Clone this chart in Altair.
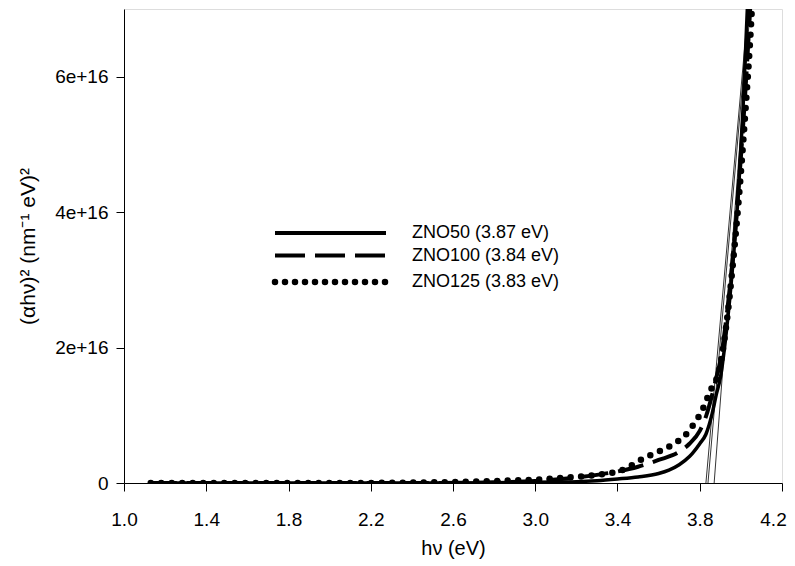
import altair as alt
import pandas as pd

# ---- data (values in units of 1e16) ----
zno50_hv = [1.13, 1.5, 2.0, 2.5, 2.8, 3.0, 3.1, 3.2, 3.3, 3.4, 3.5, 3.6, 3.65, 3.7, 3.75,
            3.8, 3.83, 3.86, 3.88, 3.9, 3.93, 3.96, 3.99, 4.01, 4.03, 4.04]
zno50_val = [0.0, 0.0, 0.0, 0.0, 0.005, 0.01, 0.015, 0.02, 0.035, 0.06, 0.09, 0.14, 0.19, 0.27, 0.39,
             0.58, 0.72, 1.02, 1.30, 1.55, 2.25, 3.2, 4.4, 5.5, 6.9, 7.6]

zno100_hv = [1.13, 1.5, 2.0, 2.5, 2.8, 3.0, 3.1, 3.2, 3.3, 3.4, 3.5, 3.6, 3.7, 3.75,
             3.8, 3.83, 3.86, 3.88, 3.9, 3.93, 3.96, 3.99, 4.02, 4.045, 4.055]
zno100_val = [0.0, 0.0, 0.0, 0.0, 0.01, 0.03, 0.05, 0.08, 0.12, 0.17, 0.24, 0.34, 0.46, 0.58,
              0.77, 0.98, 1.30, 1.55, 1.80, 2.45, 3.3, 4.4, 5.7, 7.0, 7.6]

zno125_hv = [1.13, 1.5, 2.0, 2.5, 2.8, 3.0, 3.1, 3.2, 3.3, 3.37, 3.43, 3.48, 3.53, 3.59, 3.64,
             3.69, 3.74, 3.78, 3.81, 3.835, 3.85, 3.875, 3.9, 3.93, 3.96, 3.99, 4.02, 4.05, 4.06]
zno125_val = [0.0, 0.0, 0.0, 0.01, 0.03, 0.05, 0.07, 0.09, 0.12, 0.15, 0.20, 0.28, 0.37, 0.45, 0.52,
              0.61, 0.74, 0.91, 1.06, 1.24, 1.36, 1.48, 1.75, 2.35, 3.2, 4.2, 5.4, 6.8, 7.4]

# tangent (extrapolation) lines: x-intercepts and x at top of plot
tangent_x0 = [3.87, 3.84, 3.83]
tangent_x1 = [4.045, 4.04, 4.035]
tangent_ytop = 7.0

labels = ["ZNO50 (3.87 eV)", "ZNO100 (3.84 eV)", "ZNO125 (3.83 eV)"]

FONT = "Liberation Sans"

df50 = pd.DataFrame({"hv": zno50_hv, "v": zno50_val})
df100 = pd.DataFrame({"hv": zno100_hv, "v": zno100_val})
df125 = pd.DataFrame({"hv": zno125_hv, "v": zno125_val})

tan_rows = []
for i, (a, b) in enumerate(zip(tangent_x0, tangent_x1)):
    tan_rows.append({"id": i, "hv": a, "v": 0.0})
    tan_rows.append({"id": i, "hv": b, "v": tangent_ytop})
dft = pd.DataFrame(tan_rows)

xscale = alt.Scale(domain=[1.0, 4.2], nice=False, zero=False)
yscale = alt.Scale(domain=[0, 7.0], nice=False)

xaxis = alt.Axis(
    title="hν (eV)", values=[1.0, 1.4, 1.8, 2.2, 2.6, 3.0, 3.4, 3.8, 4.2], format=".1f",
    grid=False, tickSize=8, tickColor="black", domainColor="black", labelColor="black",
    labelFont=FONT, labelFontSize=19, labelPadding=19, titleFont=FONT, titleFontSize=20,
    titleFontWeight="normal", titleColor="black", titlePadding=9, labelFlush=False,
    labelOffset={"condition": {"test": "datum.value > 4.15", "value": -9}, "value": 0},
)
yaxis = alt.Axis(
    title="(αhν)² (nm⁻¹ eV)²", values=[0, 2, 4, 6],
    labelExpr="datum.value == 0 ? '0' : datum.value + 'e+16'",
    grid=False, tickSize=8, tickColor="black", domainColor="black", labelColor="black",
    labelFont=FONT, labelFontSize=19, labelPadding=8, titleFont=FONT, titleFontSize=21,
    titleFontWeight="normal", titleColor="black", titlePadding=16,
)

x = alt.X("hv:Q", scale=xscale, axis=xaxis)
y = alt.Y("v:Q", scale=yscale, axis=yaxis)

l50 = alt.Chart(df50).mark_line(color="black", strokeWidth=3.5, interpolate="monotone", clip=True).encode(x=x, y=y)
l100 = alt.Chart(df100).mark_line(color="black", strokeWidth=4, strokeDash=[26, 10], interpolate="monotone", clip=True).encode(x=x, y=y)
l125 = alt.Chart(df125).mark_line(color="black", strokeWidth=6.5, strokeDash=[0, 10.5], strokeCap="round", interpolate="monotone", clip=True).encode(x=x, y=y)
tl = alt.Chart(dft).mark_line(color="black", strokeWidth=0.8, clip=True).encode(x=x, y=y, detail="id:N")

# manual legend (pixel positions within plot area)
leg_y = [224, 246.5, 273]
leg_layers = []
styles = [dict(strokeWidth=4), dict(strokeWidth=4, strokeDash=[30, 10]),
          dict(strokeWidth=6.5, strokeDash=[0, 10], strokeCap="round")]
for lab, yy, st in zip(labels, leg_y, styles):
    d = pd.DataFrame({"label": [lab]})
    leg_layers.append(alt.Chart(d).mark_rule(color="black", **st).encode(
        x=alt.value(151), x2=alt.value(262), y=alt.value(yy)))
    leg_layers.append(alt.Chart(d).mark_text(align="left", baseline="middle", font=FONT, fontSize=18, color="black").encode(
        x=alt.value(288), y=alt.value(yy), text="label:N"))

chart = alt.layer(tl, l50, l100, l125, *leg_layers).properties(
    width=658, height=474,
    autosize=alt.AutoSizeParams(type="none"),
    padding={"left": 116, "top": 1, "right": 5, "bottom": 80},
).configure_view(stroke="black", strokeWidth=1).configure(background="white")

chart.save("out.html", embed_options={"renderer": "svg", "actions": False})
